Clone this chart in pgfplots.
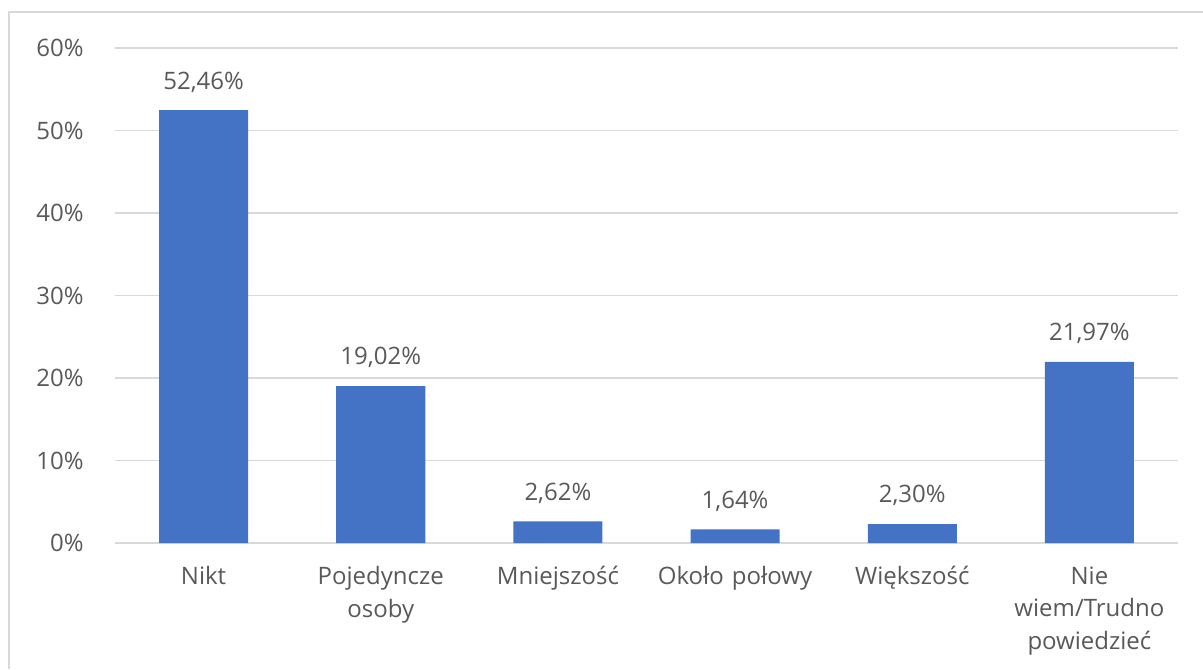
\documentclass[border=0pt]{standalone}
\usepackage{pgfplots}
\pgfplotsset{compat=1.18}
\usepackage{fontspec}
\setmainfont{Open Sans}
\definecolor{barblue}{HTML}{4472C4}
\definecolor{txt}{HTML}{595959}
\definecolor{gridc}{HTML}{D9D9D9}
\begin{document}
\begin{tikzpicture}[x=0.75pt,y=-0.75pt]
\useasboundingbox (0,0) rectangle (1203,669);
\draw[gridc,line width=1.5pt] (9,669) -- (9,12) -- (1203,12);
\begin{axis}[
  at={(115*0.75pt,-543*0.75pt)}, anchor=south west,
  scale only axis, width=797.25pt, height=371.25pt,
  xmin=-0.5, xmax=5.5, ymin=0, ymax=60,
  ytick={0,10,...,60},
  yticklabel={\pgfmathprintnumber{\tick}\%},
  xtick={0,...,5},
  xticklabels={Nikt,{Pojedyncze\\osoby},Mniejszość,{Około połowy},Większość,{Nie\\wiem/Trudno\\powiedzieć}},
  x tick label style={align=center, text width=170pt, yshift=-14pt, font=\fontsize{18pt}{24.5pt}\selectfont, text=txt},
  y tick label style={xshift=-20pt, font=\fontsize{18pt}{20pt}\selectfont, text=txt},
  /pgf/number format/assume math mode=true,
  ymajorgrids, grid style={gridc, line width=1.2pt},
  axis x line*=bottom, axis y line*=left,
  x axis line style={gridc, line width=1.2pt, -},
  y axis line style={draw=none},
  major tick length=0pt,
  ybar, bar width=66.75pt,
  nodes near coords={\pgfmathprintnumber[fixed,fixed zerofill,precision=2,use comma]{\pgfplotspointmeta}\%},
  nodes near coords style={font=\fontsize{18pt}{20pt}\selectfont, text=txt, yshift=10pt},
  clip=false,
]
\addplot[fill=barblue, draw=none] coordinates {(0,52.46) (1,19.02) (2,2.62) (3,1.64) (4,2.30) (5,21.97)};
\end{axis}
\end{tikzpicture}
\end{document}
